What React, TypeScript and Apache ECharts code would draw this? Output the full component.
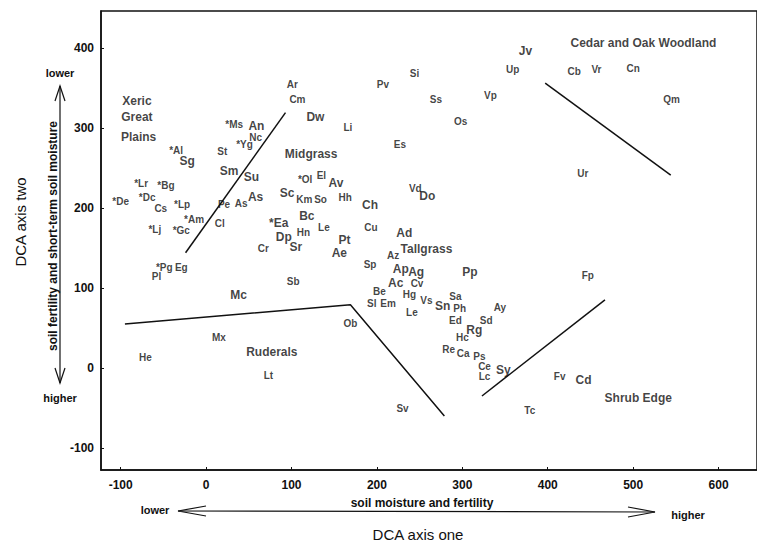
import React, { useEffect, useRef } from "react";
import * as echarts from "echarts";

// [label, DCA axis one, DCA axis two]
const majorSpecies: [string, number, number][] = [
  ["Sg", -22, 258], ["An", 59, 302], ["Sm", 27, 246], ["Su", 53, 238],
  ["As", 58, 214], ["Sc", 95, 219], ["*Ea", 85, 181], ["Dp", 91, 164],
  ["Sr", 105, 151], ["Mc", 38, 91], ["Dw", 128, 314], ["Av", 152, 231],
  ["Ch", 192, 203], ["Bc", 118, 190], ["Do", 259, 215], ["Ad", 232, 168],
  ["Pt", 162, 160], ["Ae", 156, 144], ["Ap", 228, 124], ["Ag", 246, 120],
  ["Ac", 222, 106], ["Pp", 309, 120], ["Sn", 277, 78], ["Rg", 314, 48],
  ["Sy", 348, -3], ["Cd", 442, -15], ["Jv", 374, 396],
];

const minorSpecies: [string, number, number][] = [
  ["Ar", 101, 354], ["Cm", 107, 336], ["*Ms", 33, 304], ["Nc", 58, 288],
  ["*Yg", 45, 279], ["*Al", -35, 272], ["St", 19, 270], ["*Lr", -76, 230],
  ["*Bg", -47, 228], ["*De", -100, 208], ["*Dc", -69, 213], ["Cs", -53, 199],
  ["*Lp", -28, 204], ["Pe", 21, 204], ["As", 41, 206], ["*Am", -14, 185],
  ["Cl", 16, 180], ["*Lj", -60, 173], ["*Gc", -29, 172], ["Cr", 67, 149],
  ["*Pg", -49, 126], ["Eg", -29, 126], ["Pl", -58, 114], ["Sb", 102, 108],
  ["Si", 244, 368], ["Pv", 207, 354], ["Ss", 269, 335], ["Vp", 333, 341],
  ["Os", 298, 308], ["Li", 166, 300], ["Es", 227, 279], ["*Ol", 116, 235],
  ["El", 135, 241], ["Km", 115, 210], ["So", 134, 211], ["Hh", 163, 213],
  ["Vd", 245, 224], ["Hn", 114, 169], ["Le", 138, 175], ["Cu", 193, 175],
  ["Sp", 192, 129], ["Az", 219, 141], ["Cv", 247, 105], ["Hg", 238, 92],
  ["Be", 203, 96], ["Sl", 194, 80], ["Em", 213, 80], ["Le", 241, 69],
  ["Vs", 258, 84], ["Sa", 292, 89], ["Ph", 297, 74], ["Ed", 292, 59],
  ["Ay", 344, 76], ["Ob", 169, 56], ["Sd", 328, 59], ["Hc", 300, 38],
  ["Re", 284, 23], ["Ca", 301, 18], ["Ps", 320, 14], ["Ce", 326, 2],
  ["Lc", 326, -11], ["Fp", 447, 116], ["Fv", 414, -11], ["Sv", 230, -51],
  ["Tc", 379, -53], ["Up", 359, 373], ["Cb", 431, 371], ["Vr", 457, 373],
  ["Cn", 500, 374], ["Qm", 545, 336], ["Ur", 441, 243], ["Mx", 15, 38],
  ["He", -71, 13], ["Lt", 73, -9],
];

const regionLabels: [string, number, number][] = [
  ["Xeric", -81, 334], ["Great", -81, 313], ["Plains", -79, 289],
  ["Midgrass", 123, 267], ["Tallgrass", 258, 149], ["Ruderals", 77, 20],
  ["Cedar and Oak Woodland", 512, 406], ["Shrub Edge", 506, -38],
];

const boundaryLines: [number, number][][] = [
  [[-24, 144], [93, 319]],
  [[-95, 55], [169, 79], [279, -60]],
  [[323, -35], [467, 85]],
  [[397, 356], [544, 241]],
];

const xTicks = [-100, 0, 100, 200, 300, 400, 500, 600];
const yTicks = [-100, 0, 100, 200, 300, 400];

const FONT = "'Liberation Sans', Arial, sans-serif";
const INK = "#111";

function speciesSeries(rows: [string, number, number][], size: number) {
  return {
    type: "scatter",
    symbol: "circle",
    symbolSize: 1,
    itemStyle: { color: "rgba(0,0,0,0)" },
    data: rows.map(([n, x, y]) => ({ name: n, value: [x, y] })),
    label: {
      show: true,
      position: "inside",
      formatter: "{b}",
      color: INK,
      fontFamily: FONT,
      fontWeight: "bold",
      fontSize: size,
    },
    silent: true,
  };
}

export default function App() {
  const ref = useRef<HTMLDivElement>(null);
  useEffect(() => {
    if (!ref.current) return;
    const chart = echarts.init(ref.current, undefined, { renderer: "svg" });
    const lineSeries = boundaryLines.map((pts) => ({
      type: "line",
      data: pts,
      symbol: "none",
      lineStyle: { color: INK, width: 1.5 },
      silent: true,
    }));
    const txt = (text: string, x: number, y: number, size: number, weight: string, rot = 0) => ({
      type: "text",
      x,
      y,
      rotation: rot,
      style: {
        text,
        fill: INK,
        font: `${weight} ${size}px ${FONT}`,
        align: "center",
        verticalAlign: "middle",
      },
    });
    const pl = (points: number[][]) => ({
      type: "polyline",
      shape: { points },
      style: { stroke: INK, lineWidth: 1.2, fill: "none" },
    });
    chart.setOption({
      animation: false,
      backgroundColor: "#fff",
      grid: {
        left: 101,
        top: 11,
        right: -5,
        bottom: 82,
        show: true,
        borderColor: INK,
        borderWidth: 1.5,
        backgroundColor: "transparent",
      },
      xAxis: {
        type: "value",
        min: -123,
        max: 645,
        splitLine: { show: false },
        axisLine: { show: true, onZero: false, lineStyle: { color: INK, width: 1.5 } },
        axisTick: { show: true, inside: true, length: 3, customValues: xTicks, lineStyle: { color: INK } },
        axisLabel: {
          customValues: xTicks,
          color: INK,
          fontFamily: FONT,
          fontWeight: "bold",
          fontSize: 12,
          margin: 9,
        },
      },
      yAxis: {
        type: "value",
        min: -127.5,
        max: 446,
        splitLine: { show: false },
        axisLine: { show: true, onZero: false, lineStyle: { color: INK, width: 1.5 } },
        axisTick: { show: true, inside: true, length: 3, customValues: yTicks, lineStyle: { color: INK } },
        axisLabel: {
          customValues: yTicks,
          color: INK,
          fontFamily: FONT,
          fontWeight: "bold",
          fontSize: 12,
          margin: 7,
        },
      },
      series: [
        ...lineSeries,
        speciesSeries(majorSpecies, 12),
        speciesSeries(minorSpecies, 10),
        speciesSeries(regionLabels, 12),
      ],
      graphic: [
        // horizontal arrow
        {
          type: "line",
          shape: { x1: 178, y1: 511, x2: 655, y2: 512 },
          style: { stroke: INK, lineWidth: 1.2 },
        },
        pl([[206, 506], [178, 511], [206, 516]]),
        pl([[628, 507], [655, 512], [628, 517]]),
        txt("lower", 155, 510, 11, "bold"),
        txt("higher", 688, 515, 11, "bold"),
        txt("soil moisture and fertility", 422, 503, 12, "bold"),
        txt("DCA axis one", 418, 534, 15, "normal"),
        // vertical arrow
        {
          type: "line",
          shape: { x1: 60, y1: 86, x2: 60, y2: 383 },
          style: { stroke: INK, lineWidth: 1.2 },
        },
        pl([[55, 101], [60, 86], [65, 101]]),
        pl([[55, 368], [60, 383], [65, 368]]),
        txt("lower", 60, 73, 11, "bold"),
        txt("higher", 60, 398, 11, "bold"),
        txt("soil fertility and short-term soil moisture", 53, 236, 12, "bold", Math.PI / 2),
        txt("DCA axis two", 20, 222, 15, "normal", Math.PI / 2),
      ],
    });
    return () => chart.dispose();
  }, []);
  return (
    <div
      ref={ref}
      style={{ position: "fixed", left: 0, top: 0, width: 757, height: 552, background: "#fff" }}
    />
  );
}
